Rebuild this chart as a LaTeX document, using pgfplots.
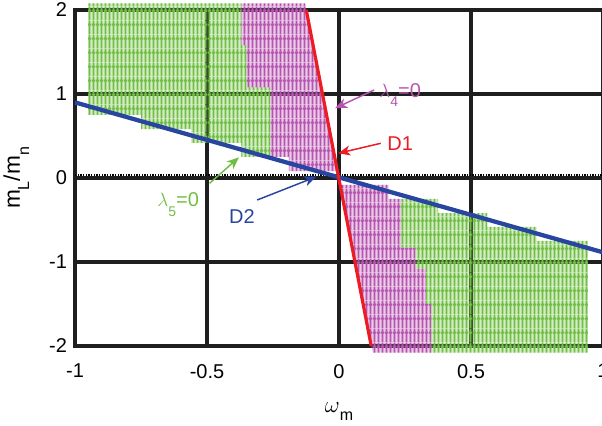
\documentclass[border=0pt]{standalone}
\usepackage{fontspec}
\setmainfont{Liberation Sans}
\usepackage{pgfplots}
\pgfplotsset{compat=1.18}
\usetikzlibrary{patterns.meta,arrows.meta}

\definecolor{mgreen}{RGB}{112,191,68}
\definecolor{mmag}{RGB}{183,84,176}
\definecolor{dred}{RGB}{237,28,36}
\definecolor{dblue}{RGB}{40,70,160}

% '+' marker texture: dense vertical arms, horizontal arms every 1/6 unit
\pgfdeclarepattern{
  name=mplus,
  type=uncolored,
  bottom left={\pgfpoint{0pt}{0pt}},
  top right={\pgfpoint{2.64pt}{10.5pt}},
  tile size={\pgfpoint{2.64pt}{10.5pt}},
  code={
    \pgfsetlinewidth{1.45pt}
    \pgfpathmoveto{\pgfpoint{1.32pt}{-0.2pt}}
    \pgfpathlineto{\pgfpoint{1.32pt}{10.7pt}}
    \pgfusepath{stroke}
    \pgfsetlinewidth{1.7pt}
    \pgfpathmoveto{\pgfpoint{-0.2pt}{7.5pt}}
    \pgfpathlineto{\pgfpoint{2.84pt}{7.5pt}}
    \pgfusepath{stroke}
  }
}

\newcommand{\sub}[3]{\raisebox{-#2}{\fontsize{#1}{#1}\selectfont #3}}

\pgfplotsset{
  region/.style={draw=none, fill=#1, fill opacity=0.3,
    postaction={pattern=mplus, pattern color=#1, fill opacity=1}},
}

\begin{document}
\begin{tikzpicture}
\begin{axis}[
  scale only axis,
  width=396pt, height=252pt,
  xmin=-1, xmax=1, ymin=-2, ymax=2,
  xtick={-1,-0.5,0,0.5,1}, xticklabels={-1,-0.5,0,0.5,1},
  ytick={-2,-1,0,1,2}, yticklabels={-2,-1,0,1,2},
  major tick length=0pt,
  tick label style={font=\fontsize{15}{18}\selectfont},
  xticklabel style={yshift=-10pt},
  yticklabel style={xshift=-2.5pt},
  clip=false,
  xlabel={{\fontsize{17}{20}\selectfont$\omega$}\sub{12}{6pt}{m}},
  ylabel={\fontsize{17}{20}\selectfont m\sub{12}{7pt}{L}/m\sub{12}{7pt}{n}},
  xlabel style={at={(axis description cs:0.5,0)}, anchor=base, yshift=-50pt},
  ylabel style={at={(axis description cs:-0.078,0.5)}, anchor=south},
]

% frame and grid lines
\addplot[black!88, line width=3pt, line cap=rect] coordinates {(-1,-2) (1,-2) (1,2) (-1,2) (-1,-2)};
\addplot[black!88, line width=3pt] coordinates {(-0.5,-2) (-0.5,2)};
\addplot[black!88, line width=3pt] coordinates {(0,-2) (0,2)};
\addplot[black!88, line width=3pt] coordinates {(0.5,-2) (0.5,2)};
\addplot[black!88, line width=3pt] coordinates {(-1,-1) (1,-1)};
\addplot[black!88, line width=3pt] coordinates {(-1,0) (1,0)};
\addplot[black!88, line width=3pt] coordinates {(-1,1) (1,1)};

% green region, upper left
\addplot[region=mgreen] coordinates {
  (-0.95,2.08) (-0.37,2.08) (-0.37,1.58) (-0.35,1.58) (-0.35,1.08)
  (-0.26,1.08) (-0.26,0.25) (-0.37,0.25) (-0.37,0.417) (-0.56,0.417)
  (-0.56,0.583) (-0.75,0.583) (-0.75,0.75) (-0.95,0.75)
};
% magenta region, upper
\addplot[region=mmag] coordinates {
  (-0.37,2.08) (-0.128,2.08) (-0.005,0.083) (-0.19,0.083) (-0.19,0.25)
  (-0.26,0.25) (-0.26,1.08) (-0.35,1.08) (-0.35,1.58) (-0.37,1.58)
};
% magenta region, lower
\addplot[region=mmag] coordinates {
  (0.005,-0.083) (0.1875,-0.083) (0.1875,-0.25) (0.235,-0.25)
  (0.235,-0.83) (0.29,-0.83) (0.29,-1.08) (0.33,-1.08) (0.33,-1.5)
  (0.35,-1.5) (0.35,-2.08) (0.128,-2.08)
};
% green region, lower right
\addplot[region=mgreen] coordinates {
  (0.235,-0.25) (0.375,-0.25) (0.375,-0.417) (0.562,-0.417)
  (0.562,-0.583) (0.749,-0.583) (0.749,-0.75) (0.943,-0.75)
  (0.943,-2.08) (0.35,-2.08) (0.35,-1.5) (0.33,-1.5) (0.33,-1.08)
  (0.29,-1.08) (0.29,-0.83) (0.235,-0.83)
};

% dotted trace along y = 0
\addplot[black, line width=0.9pt, dash pattern=on 1pt off 1pt] coordinates {(-1,0.035) (1,0.035)};

% D2 and D1
\addplot[dblue, line width=3.2pt] coordinates {(-1,0.9) (1,-0.885)};
\addplot[dred, line width=2.4pt] coordinates {(-0.124,2) (0.122,-2)};

% annotations
\draw[mmag, line width=1.1pt, -{Stealth[length=9pt,width=7.5pt,inset=2.5pt]}]
  (axis cs:0.133,1.048) -- (axis cs:-0.015,0.83);
\node[anchor=base west, inner sep=0pt, text=mmag, font=\fontsize{15}{18}\selectfont]
  at (axis cs:0.152,0.964) {$\lambda$\sub{10.5}{7pt}{4}=0};

\draw[dred, line width=1.1pt, -{Stealth[length=9pt,width=7.5pt,inset=2.5pt]}]
  (axis cs:0.158,0.413) -- (axis cs:-0.003,0.294);
\node[anchor=base west, inner sep=0pt, text=dred, font=\fontsize{15}{18}\selectfont]
  at (axis cs:0.182,0.333) {D1};

\draw[dblue, line width=1.1pt, -{Stealth[length=9pt,width=7.5pt,inset=2.5pt]}]
  (axis cs:-0.31,-0.262) -- (axis cs:-0.086,0.015);
\node[anchor=base west, inner sep=0pt, text=dblue, font=\fontsize{15}{18}\selectfont]
  at (axis cs:-0.417,-0.536) {D2};

\draw[mgreen, line width=1.1pt, -{Stealth[length=9pt,width=7.5pt,inset=2.5pt]}]
  (axis cs:-0.49,-0.063) -- (axis cs:-0.379,0.246);
\node[anchor=base west, inner sep=0pt, text=mgreen, font=\fontsize{15}{18}\selectfont]
  at (axis cs:-0.689,-0.345) {$\lambda$\sub{10.5}{7pt}{5}=0};

\end{axis}
\pgfresetboundingbox
\path[use as bounding box] ([xshift=-56.25pt,yshift=-60pt]current axis.south west)
  rectangle ([xshift=-0.75pt,yshift=7.5pt]current axis.north east);
\end{tikzpicture}
\end{document}
